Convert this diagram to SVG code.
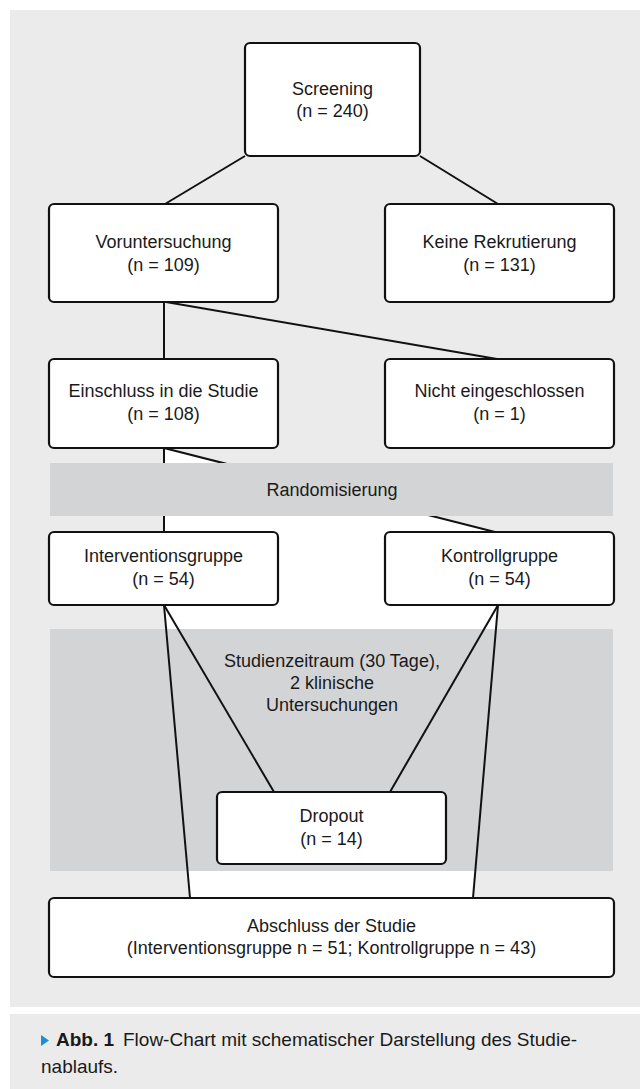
<svg xmlns="http://www.w3.org/2000/svg" width="640" height="1089" viewBox="0 0 640 1089">
<style>
.box{fill:#fff;stroke:#111;stroke-width:2.2}
.ln{stroke:#111;stroke-width:2;fill:none}
.t{font-family:"Liberation Sans",Arial,sans-serif;font-size:18px;fill:#1a1a1a;text-anchor:middle}
.cap{font-family:"Liberation Sans",Arial,sans-serif;font-size:19px;fill:#1a1a1a}
.band{fill:#d3d4d6}
</style>
<rect width="640" height="1089" fill="#fff"/>
<rect x="10" y="10" width="630" height="997" fill="#ebebeb"/>
<rect x="10" y="1014" width="630" height="75" fill="#ebebeb"/>
<polygon points="164,448 495,532 498,605 473,898 190,898 164,605" fill="#fff"/>
<rect class="band" x="50" y="629" width="563" height="242"/>
<g id="connectors">
<line class="ln" x1="245" y1="156" x2="165" y2="204"/>
<line class="ln" x1="420" y1="156" x2="498" y2="204"/>
<line class="ln" x1="164" y1="302" x2="164" y2="359"/>
<line class="ln" x1="166" y1="302" x2="497" y2="359"/>
<line class="ln" x1="164" y1="448" x2="164" y2="532"/>
<line class="ln" x1="164" y1="448" x2="495" y2="532"/>
<line class="ln" x1="164" y1="605" x2="190" y2="898"/>
<line class="ln" x1="164" y1="605" x2="274" y2="792"/>
<line class="ln" x1="498" y1="605" x2="473" y2="898"/>
<line class="ln" x1="498" y1="605" x2="390" y2="792"/>
</g>
<rect class="band" x="50" y="463" width="563" height="53"/>
<g id="randomisierung"><text class="t" x="332" y="496">Randomisierung</text></g>
<g id="studienzeitraum">
<text class="t" x="332" y="667">Studienzeitraum (30 Tage),</text>
<text class="t" x="332" y="689">2 klinische</text>
<text class="t" x="332" y="711">Untersuchungen</text>
</g>
<g id="screening"><rect class="box" x="245" y="43" width="175" height="113" rx="5"/>
<text class="t" x="332.5" y="95">Screening</text><text class="t" x="332.5" y="117">(n = 240)</text></g>
<g id="voruntersuchung"><rect class="box" x="49" y="204" width="229" height="98" rx="5"/>
<text class="t" x="163.5" y="248">Voruntersuchung</text><text class="t" x="163.5" y="271">(n = 109)</text></g>
<g id="keine"><rect class="box" x="385" y="204" width="229" height="98" rx="5"/>
<text class="t" x="499.5" y="248">Keine Rekrutierung</text><text class="t" x="499.5" y="271">(n = 131)</text></g>
<g id="einschluss"><rect class="box" x="49" y="359" width="229" height="89" rx="5"/>
<text class="t" x="163.5" y="397">Einschluss in die Studie</text><text class="t" x="163.5" y="420">(n = 108)</text></g>
<g id="nicht"><rect class="box" x="385" y="359" width="229" height="89" rx="5"/>
<text class="t" x="499.5" y="397">Nicht eingeschlossen</text><text class="t" x="499.5" y="420">(n = 1)</text></g>
<g id="intervention"><rect class="box" x="49" y="532" width="229" height="73" rx="5"/>
<text class="t" x="163.5" y="562">Interventionsgruppe</text><text class="t" x="163.5" y="585">(n = 54)</text></g>
<g id="kontroll"><rect class="box" x="385" y="532" width="229" height="73" rx="5"/>
<text class="t" x="499.5" y="562">Kontrollgruppe</text><text class="t" x="499.5" y="585">(n = 54)</text></g>
<g id="dropout"><rect class="box" x="217" y="792" width="229" height="72" rx="5"/>
<text class="t" x="331.5" y="822">Dropout</text><text class="t" x="331.5" y="845">(n = 14)</text></g>
<g id="abschluss"><rect class="box" x="49" y="898" width="565" height="79" rx="5"/>
<text class="t" x="331.5" y="932">Abschluss der Studie</text><text class="t" x="331.5" y="954">(Interventionsgruppe n = 51; Kontrollgruppe n = 43)</text></g>
<g id="caption">
<polygon points="41,1035 49,1040.5 41,1046" fill="#1b8fd6"/>
<text class="cap" x="56" y="1046" font-weight="bold">Abb. 1</text>
<text class="cap" x="123" y="1046">Flow-Chart mit schematischer Darstellung des Studie-</text>
<text class="cap" x="41" y="1073">nablaufs.</text>
</g>
</svg>
